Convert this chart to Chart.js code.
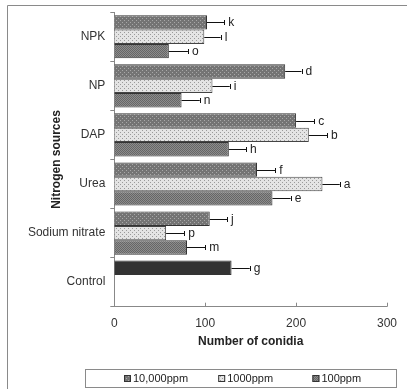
<!DOCTYPE html>
<html>
<head>
<meta charset="utf-8">
<script src="https://cdn.jsdelivr.net/npm/chart.js@4"></script>
<style>
  html, body { margin: 0; padding: 0; background: #fff; }
  #wrap { width: 407px; height: 389px; }
</style>
</head>
<body>
<div id="wrap"><canvas id="chart" width="407" height="389"></canvas></div>
<script>
// Chart data
const categories = ['NPK', 'NP', 'DAP', 'Urea', 'Sodium nitrate', 'Control'];
const seriesNames = ['10,000ppm', '1000ppm', '100ppm'];

const conidia10000 = [102, 188, 200, 157, 105, 129];
const conidia1000 = [99, 108, 214, 229, 57, null];
const conidia100 = [60, 74, 126, 174, 80, null];

const err10000 = [19, 18, 20, 20, 19, 20];
const err1000 = [18, 19, 20, 19, 20, null];
const err100 = [21, 20, 19, 20, 20, null];

const letters10000 = ['k', 'd', 'c', 'f', 'j', 'g'];
const letters1000 = ['l', 'i', 'b', 'a', 'p', null];
const letters100 = ['o', 'n', 'h', 'e', 'm', null];

const xTicks = [0, 100, 200, 300];

// Small tiled textures like the Excel fills
function makePattern(bg, dot, step) {
    const c = document.createElement('canvas');
    c.width = step * 2;
    c.height = step * 2;
    const g = c.getContext('2d');
    g.fillStyle = bg;
    g.fillRect(0, 0, c.width, c.height);
    g.fillStyle = dot;
    g.fillRect(0, 0, 1, 1);
    g.fillRect(step, step, 1, 1);
    return g.createPattern(c, 'repeat');
}

const ctx = document.getElementById('chart').getContext('2d');
const fill10000 = makePattern('#747474', '#a8a8a8', 2);
const fill1000 = makePattern('#e4e4e4', '#9a9a9a', 2);
const fill100 = makePattern('#8c8c8c', '#666666', 1);
const controlFill = '#333333';

const errors = [err10000, err1000, err100];
const letters = [letters10000, letters1000, letters100];
const fills = [fill10000, fill1000, fill100];

// error bars + letters next to every bar
const errorBarPlugin = {
    id: 'errorBars',
    afterDatasetsDraw(chart) {
        const c = chart.ctx;
        const xs = chart.scales.x;
        c.save();
        c.strokeStyle = '#111';
        c.lineWidth = 1;
        c.fillStyle = '#222';
        c.font = '12px "Liberation Sans", Arial, sans-serif';
        c.textBaseline = 'middle';
        chart.data.datasets.forEach(function (ds, di) {
            const meta = chart.getDatasetMeta(di);
            meta.data.forEach(function (bar, i) {
                const v = ds.data[i];
                if (v === null) return;
                const xEnd = xs.getPixelForValue(v + errors[di][i]);
                const y = Math.round(bar.y) + 0.5;
                c.beginPath();
                c.moveTo(bar.x, y);
                c.lineTo(xEnd, y);
                c.moveTo(Math.round(xEnd) + 0.5, y - 2.5);
                c.lineTo(Math.round(xEnd) + 0.5, y + 2.5);
                c.stroke();
                c.fillText(letters[di][i], xEnd + 4, y);
            });
        });
        c.restore();
    }
};

// frame, inward x ticks and the boxed legend
const decorPlugin = {
    id: 'decor',
    afterDraw(chart) {
        const c = chart.ctx;
        const xs = chart.scales.x;
        const area = chart.chartArea;
        c.save();
        c.strokeStyle = '#8a8a8a';
        c.lineWidth = 1;
        c.beginPath();
        c.moveTo(7.5, 389);
        c.lineTo(7.5, 5.5);
        c.lineTo(407, 5.5);
        c.stroke();

        c.strokeStyle = '#888';
        c.beginPath();
        xTicks.forEach(function (t) {
            const x = Math.round(xs.getPixelForValue(t)) + 0.5;
            c.moveTo(x, area.bottom);
            c.lineTo(x, area.bottom - 4);
        });
        c.stroke();

        // legend box
        c.strokeStyle = '#8a8a8a';
        c.strokeRect(85.5, 369.5, 311, 18);
        c.font = '11px "Liberation Sans", Arial, sans-serif';
        c.textBaseline = 'middle';
        c.fillStyle = '#222';
        chart.data.datasets.forEach(function (ds, i) {
            const x = 124 + i * 94.2;
            const y = 378.5;
            c.fillStyle = fills[i];
            c.fillRect(x, y - 3.5, 7, 7);
            c.strokeStyle = '#333';
            c.strokeRect(x + 0.5, y - 3, 6, 6);
            c.fillStyle = '#222';
            c.fillText(ds.label, x + 9, y);
        });
        c.restore();
    }
};

new Chart(ctx, {
    type: 'bar',
    data: {
        labels: categories,
        datasets: [
            {
                label: seriesNames[0],
                data: conidia10000,
                backgroundColor: function (c) {
                    return categories[c.dataIndex] === 'Control' ? controlFill : fill10000;
                },
                borderColor: '#333',
                borderWidth: 1
            },
            {
                label: seriesNames[1],
                data: conidia1000,
                backgroundColor: fill1000,
                borderColor: '#444',
                borderWidth: 1
            },
            {
                label: seriesNames[2],
                data: conidia100,
                backgroundColor: fill100,
                borderColor: '#333',
                borderWidth: 1
            }
        ]
    },
    options: {
        indexAxis: 'y',
        responsive: false,
        animation: false,
        categoryPercentage: 0.88,
        barPercentage: 1.0,
        layout: { padding: { top: 11.7, right: 18.7, bottom: 38.3, left: 0 } },
        plugins: {
            legend: { display: false },
            tooltip: { enabled: false }
        },
        scales: {
            x: {
                min: 0,
                max: 300,
                afterBuildTicks: function (s) {
                    s.ticks = xTicks.map(function (v) { return { value: v }; });
                },
                afterFit: function (s) { s.height = 44; },
                grid: { display: false, drawTicks: false },
                border: { display: true, color: '#888' },
                ticks: {
                    padding: 10,
                    color: '#333',
                    font: { family: '"Liberation Sans", Arial, sans-serif', size: 12 }
                },
                title: {
                    display: true,
                    text: 'Number of conidia',
                    color: '#222',
                    padding: 2,
                    font: { family: '"Liberation Sans", Arial, sans-serif', size: 12, weight: 'bold' }
                }
            },
            y: {
                afterFit: function (s) { s.width = 114.3; },
                grid: {
                    display: true,
                    offset: true,
                    drawOnChartArea: false,
                    drawTicks: true,
                    tickLength: 4,
                    color: '#888'
                },
                border: { display: true, color: '#888' },
                ticks: {
                    padding: 5,
                    color: '#333',
                    font: { family: '"Liberation Sans", Arial, sans-serif', size: 12 }
                },
                title: {
                    display: true,
                    text: 'Nitrogen sources',
                    color: '#222',
                    padding: { top: 49, bottom: 0 },
                    font: { family: '"Liberation Sans", Arial, sans-serif', size: 12, weight: 'bold' }
                }
            }
        }
    },
    plugins: [errorBarPlugin, decorPlugin]
});
</script>
</body>
</html>
